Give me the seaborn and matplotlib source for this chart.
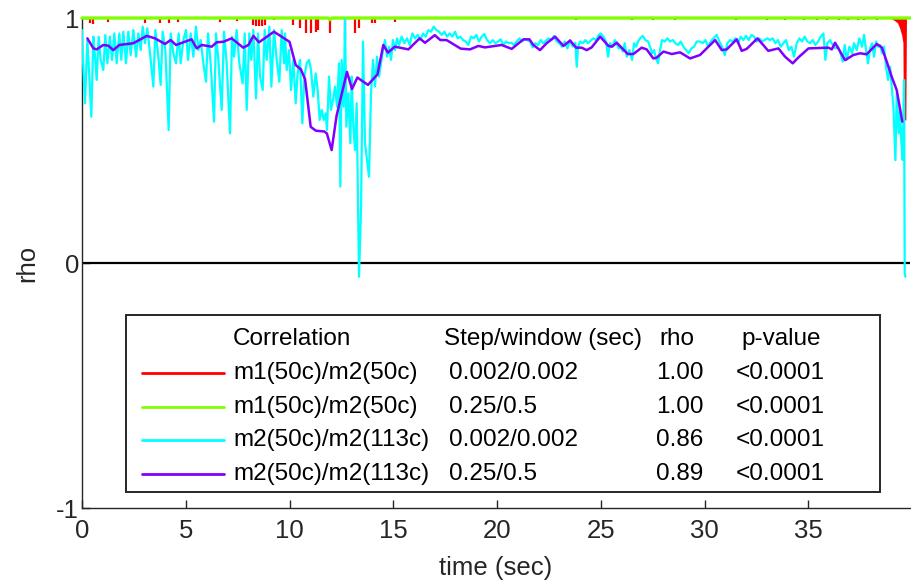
import matplotlib
matplotlib.use("Agg")
import matplotlib.pyplot as plt
import seaborn as sns
import pandas as pd
from matplotlib.patches import Rectangle
from matplotlib.lines import Line2D

# ---------------------------------------------------------------
# Sliding-window Spearman correlation (rho) over time
# ---------------------------------------------------------------

# m2(50c)/m2(113c), step/window 0.002/0.002 s
cyan_t = [
    0.0, 0.033, 0.145, 0.257, 0.354, 0.450, 0.547, 0.627, 0.707, 0.804,
    0.900, 1.028, 1.125, 1.221, 1.350, 1.446, 1.559, 1.671, 1.800, 1.896,
    1.992, 2.121, 2.233, 2.346, 2.474, 2.603, 2.715, 2.828, 2.924, 3.037,
    3.149, 3.278, 3.438, 3.535, 3.663, 3.792, 3.888, 4.017, 4.177, 4.274,
    4.402, 4.530, 4.659, 4.755, 4.884, 5.012, 5.109, 5.237, 5.366, 5.494,
    5.607, 5.719, 5.848, 5.976, 6.073, 6.201, 6.362, 6.458, 6.571, 6.731,
    6.844, 6.972, 7.133, 7.229, 7.326, 7.454, 7.583, 7.743, 7.840, 7.936,
    8.065, 8.161, 8.257, 8.386, 8.482, 8.579, 8.707, 8.804, 8.900, 9.029,
    9.125, 9.253, 9.382, 9.510, 9.623, 9.735,
    9.783, 9.863, 9.976, 10.072, 10.185, 10.297, 10.393, 10.506, 10.618, 10.715,
    10.827, 10.940, 11.036, 11.148, 11.261, 11.357, 11.454, 11.550, 11.646, 11.743,
    11.807, 11.903, 12.000, 12.096, 12.193, 12.289, 12.385, 12.450, 12.514, 12.610,
    12.675, 12.739, 12.835, 12.932, 12.996, 13.060, 13.156, 13.237, 13.349, 13.446,
    13.542, 13.638, 13.735, 13.831, 13.928, 14.024, 14.120, 14.217, 14.313, 14.410,
    14.506, 14.602, 14.699, 14.795, 14.891, 14.988, 15.084, 15.181, 15.277, 15.405,
    15.534, 15.663, 15.791, 15.920, 16.048, 16.177, 16.305, 16.434, 16.562, 16.691,
    16.819, 16.948, 17.076, 17.205, 17.333, 17.462, 17.590, 17.719, 17.847, 17.976,
    18.104, 18.233, 18.361, 18.490, 18.618, 18.747, 18.875, 19.004, 19.132, 19.261,
    19.389, 19.518,
    19.663, 19.791, 19.920, 20.049, 20.177, 20.306, 20.434, 20.563, 20.691, 20.820,
    20.948, 21.077, 21.205, 21.334, 21.462, 21.591, 21.719, 21.848, 21.976, 22.105,
    22.233, 22.362, 22.490, 22.619, 22.747, 22.876, 23.004, 23.133, 23.261, 23.390,
    23.518, 23.647, 23.775, 23.840, 23.904, 24.000, 24.129, 24.257, 24.386, 24.514,
    24.643, 24.771, 24.900, 24.996, 25.125, 25.253, 25.350, 25.446, 25.575, 25.671,
    25.767, 25.864, 25.960, 26.057, 26.153, 26.249, 26.378, 26.506, 26.603, 26.699,
    26.796, 26.892, 27.020, 27.149, 27.277, 27.374, 27.470, 27.567, 27.663, 27.760,
    27.856, 27.952, 28.081, 28.209, 28.338, 28.466, 28.595, 28.723, 28.852, 28.980,
    29.109, 29.237, 29.366, 29.494, 29.623,
    29.783, 29.912, 30.040, 30.169, 30.297, 30.426, 30.586, 30.715, 30.843, 30.972,
    31.100, 31.229, 31.357, 31.486, 31.614, 31.743, 31.871, 32.000, 32.128, 32.257,
    32.385, 32.514, 32.642, 32.771, 32.899, 33.028, 33.156, 33.285, 33.413, 33.542,
    33.670, 33.799, 33.927, 34.056, 34.185, 34.313, 34.442, 34.570, 34.699, 34.827,
    34.956, 35.084, 35.213, 35.341, 35.470, 35.598, 35.727, 35.823, 35.920, 36.048,
    36.177, 36.305, 36.434, 36.530, 36.659, 36.755, 36.851, 36.980, 37.108, 37.205,
    37.333, 37.462, 37.590, 37.687, 37.783, 37.880, 37.976, 38.072, 38.169, 38.265,
    38.361, 38.458, 38.554, 38.651, 38.747, 38.843, 38.940, 39.036, 39.100, 39.197,
    39.261, 39.357, 39.422, 39.486, 39.550, 39.614, 39.646, 39.678,
]
cyan_v = [
    0.951, 0.856, 0.652, 0.910, 0.761, 0.597, 0.924, 0.842, 0.747, 0.924,
    0.829, 0.788, 0.931, 0.815, 0.924, 0.829, 0.937, 0.815, 0.937, 0.829,
    0.944, 0.815, 0.944, 0.849, 0.951, 0.842, 0.937, 0.869, 0.965, 0.897,
    0.958, 0.856, 0.720, 0.951, 0.856, 0.727, 0.944, 0.869, 0.543, 0.937,
    0.856, 0.815, 0.937, 0.815, 0.910, 0.951, 0.829, 0.937, 0.842, 0.965,
    0.869, 0.910, 0.815, 0.740, 0.937, 0.815, 0.577, 0.937, 0.829, 0.625,
    0.944, 0.815, 0.529, 0.924, 0.842, 0.951, 0.815, 0.733, 0.937, 0.625,
    0.937, 0.829, 0.951, 0.672, 0.937, 0.761, 0.706, 0.951, 0.829, 0.965,
    0.720, 0.951, 0.829, 0.740, 0.951, 0.815,
    0.937, 0.788, 0.869, 0.706, 0.829, 0.652, 0.774, 0.829, 0.570, 0.761,
    0.815, 0.829, 0.788, 0.679, 0.774, 0.706, 0.584, 0.625, 0.584, 0.611,
    0.543, 0.761, 0.625, 0.665, 0.720, 0.638, 0.815, 0.312, 0.829, 0.638,
    1.000, 0.557, 0.693, 0.489, 0.761, 0.584, 0.461, 0.652, -0.056, 0.216,
    0.904, 0.489, 0.420, 0.352, 0.693, 0.829, 0.720, 0.842, 0.761, 0.815,
    0.869, 0.910, 0.842, 0.883, 0.829, 0.910, 0.869, 0.917, 0.890, 0.924,
    0.897, 0.917, 0.890, 0.937, 0.917, 0.931, 0.910, 0.937, 0.924, 0.951,
    0.944, 0.965, 0.951, 0.944, 0.931, 0.944, 0.924, 0.937, 0.924, 0.944,
    0.917, 0.924, 0.910, 0.904, 0.890, 0.924, 0.917, 0.931, 0.904, 0.924,
    0.935, 0.910,
    0.897, 0.910, 0.897, 0.904, 0.913, 0.890, 0.904, 0.897, 0.899, 0.890,
    0.904, 0.917, 0.904, 0.913, 0.910, 0.904, 0.880, 0.897, 0.890, 0.910,
    0.897, 0.908, 0.917, 0.910, 0.927, 0.904, 0.897, 0.883, 0.904, 0.876,
    0.910, 0.883, 0.899, 0.801, 0.883, 0.904, 0.897, 0.910, 0.897, 0.908,
    0.917, 0.910, 0.931, 0.937, 0.924, 0.904, 0.842, 0.897, 0.883, 0.910,
    0.897, 0.876, 0.883, 0.863, 0.897, 0.842, 0.869, 0.829, 0.897, 0.883,
    0.904, 0.917, 0.927, 0.910, 0.904, 0.883, 0.856, 0.869, 0.835, 0.815,
    0.869, 0.910, 0.904, 0.917, 0.904, 0.910, 0.897, 0.890, 0.904, 0.883,
    0.869, 0.856, 0.876, 0.883, 0.904,
    0.904, 0.897, 0.910, 0.883, 0.904, 0.917, 0.931, 0.904, 0.883, 0.849,
    0.897, 0.910, 0.904, 0.917, 0.897, 0.924, 0.910, 0.927, 0.910, 0.931,
    0.924, 0.904, 0.917, 0.904, 0.910, 0.917, 0.910, 0.917, 0.897, 0.910,
    0.883, 0.897, 0.910, 0.869, 0.883, 0.842, 0.897, 0.917, 0.904, 0.924,
    0.904, 0.897, 0.910, 0.890, 0.904, 0.924, 0.937, 0.829, 0.897, 0.910,
    0.890, 0.876, 0.883, 0.863, 0.822, 0.890, 0.829, 0.883, 0.856, 0.897,
    0.869, 0.917, 0.883, 0.931, 0.869, 0.815, 0.876, 0.897, 0.842, 0.904,
    0.883, 0.890, 0.856, 0.883, 0.801, 0.747, 0.801, 0.706, 0.638, 0.420,
    0.693, 0.529, 0.625, 0.489, 0.420, 0.747, -0.042, -0.056,
]

# m2(50c)/m2(113c), step/window 0.25/0.5 s
purple_t = [
    0.26, 0.55, 0.71, 1.03, 1.27, 1.51, 1.80, 2.47, 3.12, 3.52,
    4.00, 4.27, 4.53, 5.28, 5.53, 5.77, 6.25, 6.49, 6.81, 7.21,
    7.77, 8.02, 8.26, 8.53, 9.25, 10.00, 10.30, 10.55, 10.75, 11.02,
    11.27, 11.67, 11.80, 12.03, 12.27, 12.77, 13.01, 13.27, 13.78, 14.24,
    14.52, 14.74, 15.08, 15.73, 16.27, 16.53, 17.00, 17.27, 17.57, 18.25,
    18.70, 19.10, 19.42, 19.66, 20.22, 20.71, 21.27, 21.56, 21.75, 22.07,
    22.39, 22.80, 23.20, 23.52, 23.81, 24.08, 24.32, 24.56, 24.97, 25.37,
    25.53, 25.77, 26.30, 26.57, 26.97, 27.21, 27.53, 27.69, 28.02, 28.42,
    28.82, 29.30, 29.78, 30.51, 30.83, 31.07, 31.55, 31.79, 32.03, 32.55,
    33.07, 33.56, 33.88, 34.25, 34.52, 35.01, 35.97, 36.13, 36.29, 36.77,
    37.17, 37.49, 37.81, 38.30, 38.54, 38.78, 39.02, 39.26, 39.53,
]
purple_v = [
    0.917, 0.876, 0.872, 0.890, 0.887, 0.869, 0.890, 0.897, 0.927, 0.917,
    0.894, 0.910, 0.890, 0.913, 0.876, 0.890, 0.883, 0.901, 0.903, 0.917,
    0.879, 0.890, 0.927, 0.901, 0.944, 0.903, 0.808, 0.790, 0.750, 0.556,
    0.540, 0.537, 0.529, 0.461, 0.602, 0.780, 0.710, 0.757, 0.727, 0.770,
    0.890, 0.859, 0.883, 0.872, 0.917, 0.899, 0.930, 0.910, 0.910, 0.875,
    0.872, 0.886, 0.880, 0.883, 0.890, 0.874, 0.913, 0.913, 0.890, 0.869,
    0.897, 0.924, 0.886, 0.908, 0.879, 0.879, 0.869, 0.880, 0.924, 0.886,
    0.883, 0.899, 0.853, 0.853, 0.879, 0.872, 0.835, 0.838, 0.863, 0.853,
    0.860, 0.835, 0.849, 0.910, 0.869, 0.872, 0.913, 0.866, 0.874, 0.917,
    0.866, 0.876, 0.842, 0.815, 0.839, 0.876, 0.879, 0.872, 0.899, 0.828,
    0.849, 0.856, 0.852, 0.894, 0.880, 0.822, 0.760, 0.706, 0.577,
]

# m1(50c)/m2(50c), step/window 0.25/0.5 s
green_t = [0.0, 11.85, 11.95, 12.05, 39.9]
green_v = [1.0, 1.0, 0.993, 1.0, 1.0]

# m1(50c)/m2(50c), step/window 0.002/0.002 s: dips below 1
red_spike_t = [
    0.39, 0.51, 1.27, 3.04, 3.76, 4.21, 4.64, 6.65, 7.45, 8.26,
    8.40, 8.55, 8.66, 8.82, 9.25, 10.18, 10.50, 10.78, 11.04, 11.26,
    11.39, 11.95, 12.68, 13.15, 13.35, 13.96, 14.12, 15.08, 20.3, 22.0,
    23.8, 25.0, 26.5, 27.5, 28.6, 31.5, 33.0, 33.9, 34.8, 35.4,
    35.9, 36.5, 36.9, 37.4, 37.7, 38.3,
]
red_spike_v = [
    0.978, 0.976, 0.985, 0.981, 0.981, 0.981, 0.985, 0.985, 0.989, 0.972,
    0.969, 0.969, 0.967, 0.972, 0.990, 0.972, 0.958, 0.937, 0.937, 0.944,
    0.951, 0.937, 0.910, 0.937, 0.958, 0.981, 0.978, 0.985, 0.995, 0.995,
    0.993, 0.995, 0.993, 0.992, 0.993, 0.993, 0.992, 0.990, 0.990, 0.990,
    0.992, 0.990, 0.990, 0.992, 0.990, 0.993,
]
# dense dips at the end of the recording (lower envelope)
red_tail_t = [38.95, 39.15, 39.30, 39.40, 39.50, 39.56, 39.58, 39.70, 39.73]
red_tail_v = [1.000, 0.990, 0.980, 0.960, 0.930, 0.900, 0.584, 0.584, 1.000]

# legend table
series_colors = ["#ff0000", "#80ff00", "#00ffff", "#8000ff"]
legend_header = ["Correlation", "Step/window (sec)", "rho", "p-value"]
legend_corr = ["m1(50c)/m2(50c)", "m1(50c)/m2(50c)",
               "m2(50c)/m2(113c)", "m2(50c)/m2(113c)"]
legend_step = ["0.002/0.002", "0.25/0.5", "0.002/0.002", "0.25/0.5"]
legend_rho = ["1.00", "1.00", "0.86", "0.89"]
legend_p = ["<0.0001", "<0.0001", "<0.0001", "<0.0001"]

x_ticks = [0, 5, 10, 15, 20, 25, 30, 35]
y_ticks = [-1, 0, 1]

# ---------------------------------------------------------------
sns.set_style("ticks")
plt.rcParams["font.family"] = ["Liberation Sans", "DejaVu Sans"]
ink = "#262626"
fs_axis = 18.5

fig = plt.figure(figsize=(9.12, 5.83), dpi=100)
ax = fig.add_axes([0.0899, 0.1286, 0.9079, 0.8405])

ax.axhline(0, color="black", lw=1.6, zorder=1)

# red trace: dips from 1
ax.vlines(red_spike_t, red_spike_v, 1.0, color=series_colors[0], lw=1.6, zorder=2)
ax.fill_between(red_tail_t, red_tail_v, 1.0, color=series_colors[0], lw=0, zorder=2)

green_df = pd.DataFrame({"t": green_t, "rho": green_v})
cyan_df = pd.DataFrame({"t": cyan_t, "rho": cyan_v})
purple_df = pd.DataFrame({"t": purple_t, "rho": purple_v})

sns.lineplot(data=green_df, x="t", y="rho", ax=ax, color=series_colors[1],
             lw=2.4, estimator=None, sort=False, zorder=3, clip_on=False)
sns.lineplot(data=cyan_df, x="t", y="rho", ax=ax, color=series_colors[2],
             lw=1.6, estimator=None, sort=False, zorder=4)
sns.lineplot(data=purple_df, x="t", y="rho", ax=ax, color=series_colors[3],
             lw=1.8, estimator=None, sort=False, zorder=5)

ax.set_xlim(0, 39.9)
ax.set_ylim(-1, 1)
ax.set_xticks(x_ticks)
ax.set_yticks(y_ticks)
ax.set_xticklabels([str(v) for v in x_ticks])
ax.set_yticklabels([str(v) for v in y_ticks])

sns.despine(ax=ax)
for side in ("left", "bottom"):
    ax.spines[side].set_color(ink)
    ax.spines[side].set_linewidth(1.0)
ax.tick_params(axis="both", direction="in", length=6, width=1, color=ink,
               labelcolor=ink, labelsize=fs_axis)
ax.tick_params(axis="x", pad=8)
ax.tick_params(axis="y", pad=2)

ax.set_xlabel("time (sec)", fontsize=fs_axis, color=ink, labelpad=9)
ax.set_ylabel("rho", fontsize=fs_axis, color=ink, labelpad=12)

# legend drawn as a table
box = Rectangle((0.0531, 0.0327), 0.911, 0.3613, transform=ax.transAxes,
                facecolor="white", edgecolor=ink, lw=1.4, zorder=10)
ax.add_patch(box)

fs_leg = 17.5
header_y = 0.345
row_y = [0.276, 0.207, 0.139, 0.070]
header_x = [0.1824, 0.437, 0.697, 0.796]
col_x = [0.1824, 0.443, 0.693, 0.789]

for txt, xx in zip(legend_header, header_x):
    ax.text(xx, header_y, txt, transform=ax.transAxes, ha="left", va="center",
            fontsize=fs_leg, color="black", zorder=11)

for i, yy in enumerate(row_y):
    ax.add_line(Line2D([0.0725, 0.1715], [yy, yy], transform=ax.transAxes,
                       color=series_colors[i], lw=2.0, zorder=11))
    for txt, xx in zip([legend_corr[i], legend_step[i], legend_rho[i], legend_p[i]], col_x):
        ax.text(xx, yy, txt, transform=ax.transAxes, ha="left", va="center",
                fontsize=fs_leg, color="black", zorder=11)

fig.savefig("out.png", dpi=100)
